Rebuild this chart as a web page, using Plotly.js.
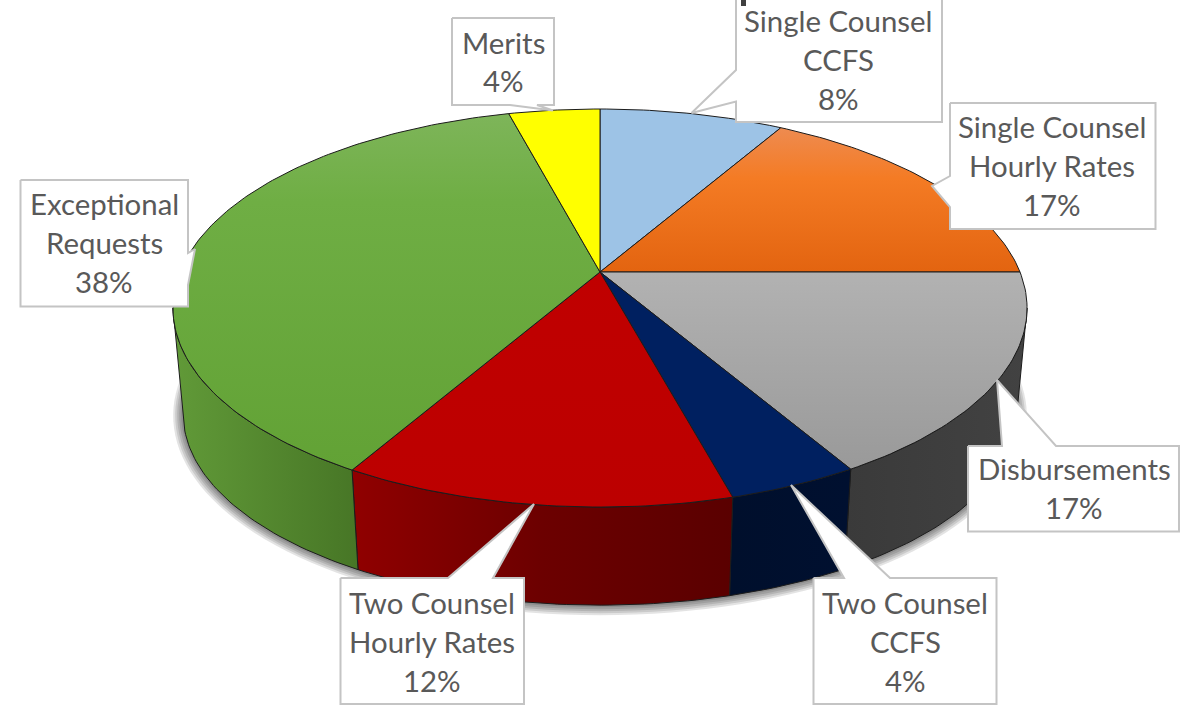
<!DOCTYPE html>
<html><head><meta charset="utf-8">
<script src="https://cdn.plot.ly/plotly-3.0.1.min.js"></script>
<style>html,body{margin:0;padding:0;background:#fff;overflow:hidden}#c{width:1197px;height:705px}</style>
</head><body><div id="c"></div>
<script>
// ---- data (clockwise from 12 o'clock) ----
const categories = ["Single Counsel CCFS","Single Counsel Hourly Rates","Disbursements","Two Counsel CCFS","Two Counsel Hourly Rates","Exceptional Requests","Merits"];
const values = [8.3,16.7,16.6,4.2,12.49,37.6,4.11];
const labelLines = [["Single Counsel","CCFS"],["Single Counsel","Hourly Rates"],["Disbursements"],["Two Counsel","CCFS"],["Two Counsel","Hourly Rates"],["Exceptional","Requests"],["Merits"]];

// ---- styles ----
const topFills = [
  [[0,'#9dc3e6'],[1,'#9dc3e6']],
  [[0,'#ee8b50'],[0.35,'#f47b24'],[1,'#e36410']],
  [[0,'#b2b2b2'],[1,'#999999']],
  [[0,'#002060'],[1,'#002060']],
  [[0,'#c00000'],[1,'#bc0000']],
  [[0,'#7eb55a'],[0.25,'#6fae44'],[1,'#62a235']],
  [[0,'#ffff00'],[1,'#ffff00']]
];
const wallFills = [
  null,null,
  [[0,'#3a3a3a'],[1,'#424242']],
  [[0,'#000f2c'],[1,'#001030']],
  [[0,'#900000'],[0.5,'#6c0000'],[1,'#5a0000']],
  [[0,'#619a38'],[1,'#477626']],
  null
];
const gradY = [[109,130],[128,272],[272,472],[400,500],[272,507],[112,470],[109,270]];

// ---- projection of the pie disc ----
const cx=600, cy=272, A=420, B=192.5, K=0.181;
const bx=0.976, by=0.96, cyB=379.5;
const edgeR=Math.acos(-K)*180/Math.PI, edgeL=360-edgeR; // silhouette angles
function proj(thetaDeg, bottom, grow){
  const t=thetaDeg*Math.PI/180, u=Math.sin(t), v=Math.cos(t), w=1+K*v;
  const sx=A*u/w, sy=-B*v/w;
  if(bottom){ const g=grow||0; return [cx+sx*bx*(1+g/416), cyB+sy*by*(1+g/224)]; }
  return [cx+sx, cy+sy];
}
function arc(a0,a1,bottom){
  const n=Math.max(2,Math.ceil(Math.abs(a1-a0))), pts=[];
  for(let i=0;i<=n;i++) pts.push(proj(a0+(a1-a0)*i/n,bottom));
  return pts;
}
const traces=[];
const edge={color:'#1c1c1c',width:1};
// soft shadow under the wall
[10,8,6,4,2].forEach(g=>{
  const xs=[],ys=[];
  for(let a=0;a<=360;a+=2){const p=proj(a,true,g);xs.push(p[0]);ys.push(p[1]);}
  traces.push({type:'scatter',mode:'none',x:xs,y:ys,fill:'toself',fillcolor:'rgba(0,0,0,0.11)',hoverinfo:'skip',showlegend:false});
});
const bounds=[0];
values.forEach(v=>bounds.push(bounds[bounds.length-1]+v*3.6));
// walls: visible part of each slice, between the two silhouette angles
values.forEach((v,i)=>{
  if(!wallFills[i]) return;
  const a0=Math.max(bounds[i],edgeR),a1=Math.min(bounds[i+1],edgeL);
  const t=arc(a0,a1,false), b=arc(a1,a0,true), p=t.concat(b,[t[0]]);
  const xs=p.map(q=>q[0]);
  traces.push({type:'scatter',mode:'lines',x:xs,y:p.map(q=>q[1]),fill:'toself',line:edge,
    fillgradient:{type:'horizontal',colorscale:wallFills[i],start:Math.min(...xs),stop:Math.max(...xs)},
    hoverinfo:'skip',showlegend:false});
});
// top faces
values.forEach((v,i)=>{
  const p=[[cx,cy]].concat(arc(bounds[i],bounds[i+1],false),[[cx,cy]]);
  traces.push({type:'scatter',mode:'lines',name:categories[i],x:p.map(q=>q[0]),y:p.map(q=>q[1]),fill:'toself',line:edge,
    fillgradient:{type:'vertical',colorscale:topFills[i],start:gradY[i][0],stop:gradY[i][1]},
    hoverinfo:'name',showlegend:false});
});
// ---- callouts: outline (box and pointer), label centre ----
const callouts=[
  {o:[[736,-5],[736,70],[691.5,113],[736,101.5],[736,122],[942,122],[942,-5]],c:838,l:[20,59,98]},
  {o:[[950,103],[950,176],[932,186],[950,207],[950,229],[1155.5,229],[1155.5,103]],c:1052,l:[126,165,204]},
  {o:[[968,446],[968,531.5],[1179,531.5],[1179,446],[1056,446],[997,380],[1002,446]],c:1074,l:[468,507]},
  {o:[[813.5,578],[813.5,704],[996.5,704],[996.5,578],[890,578],[791,485],[844,578]],c:905,l:[602,641,680]},
  {o:[[340.5,578],[340.5,704],[524,704],[524,578],[493,578],[534,504],[448,578]],c:432,l:[602,641,680]},
  {o:[[20.5,180],[20.5,306.5],[188,306.5],[188,285],[195,249],[188,253],[188,180]],c:104,l:[203,242,281]},
  {o:[[452,18],[452,105],[510,105],[553,110.5],[537,105],[554,105],[554,18]],c:503,l:[42,80]}
];
const annotations=[];
callouts.forEach((k,i)=>{
  const p=k.o.concat([k.o[0]]);
  traces.push({type:'scatter',mode:'lines',x:p.map(q=>q[0]),y:p.map(q=>q[1]),fill:'toself',fillcolor:'#ffffff',
    line:{color:'#c4c4c4',width:2},hoverinfo:'skip',showlegend:false});
  const lines=labelLines[i].concat([Math.round(values[i])+'%']);
  lines.forEach((s,j)=>annotations.push({x:k.c,y:k.l[j],xref:'x',yref:'y',text:s,showarrow:false,xanchor:'center',yanchor:'middle',
    font:{family:'Lato, "Open Sans", sans-serif',size:29.4,color:'#595959'}}));
});
const layout={width:1197,height:705,margin:{l:0,r:0,t:0,b:0},paper_bgcolor:'#fff',plot_bgcolor:'#fff',showlegend:false,
  xaxis:{range:[0,1197],visible:false,fixedrange:true},
  yaxis:{range:[705,0],visible:false,fixedrange:true},
  annotations,
  shapes:[{type:'rect',x0:741,x1:746,y0:0,y1:6,fillcolor:'#404040',line:{width:0}}]};
Plotly.newPlot('c',traces,layout,{displayModeBar:false,staticPlot:true});
</script></body></html>
